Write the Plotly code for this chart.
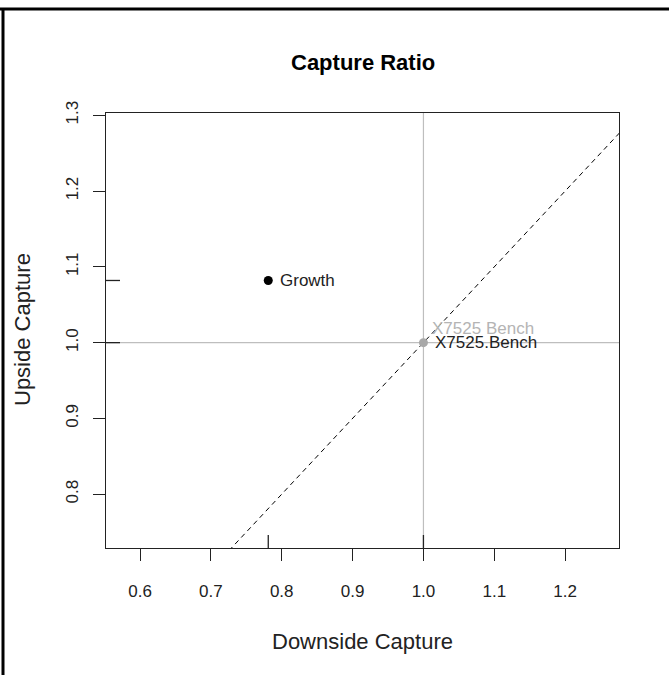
import plotly.graph_objects as go

# Capture ratios of each series against the benchmark
names = ["Growth", "X7525.Bench"]
downside_capture = [0.781, 1.0]
upside_capture = [1.082, 1.0]
point_colors = ["black", "#A8A8A8"]

x_ticks = [0.6, 0.7, 0.8, 0.9, 1.0, 1.1, 1.2]
y_ticks = [0.8, 0.9, 1.0, 1.1, 1.2, 1.3]
x_range = [0.552, 1.276]
y_range = [0.729, 1.303]

W, H = 669, 675
L, R, T, B = 106, 50, 113, 127
plot_w = W - L - R
plot_h = H - T - B


def px_x(p):
    return (p - L) / plot_w


def px_y(p):
    return (H - B - p) / plot_h


FONT = "Liberation Sans, Arial, sans-serif"
fig = go.Figure()

# 45-degree reference line (upside == downside)
lo, hi = min(x_range[0], y_range[0]), max(x_range[1], y_range[1])
fig.add_trace(go.Scatter(
    x=[lo, hi], y=[lo, hi], mode="lines",
    line=dict(color="black", width=1, dash="5px,4px"),
    hoverinfo="skip", showlegend=False,
))

# Grey cross-hair through the benchmark (1, 1)
bench_x, bench_y = downside_capture[1], upside_capture[1]
fig.add_shape(type="line", xref="x", yref="paper", x0=bench_x, x1=bench_x, y0=0, y1=1,
              line=dict(color="#BEBEBE", width=1.2), layer="below")
fig.add_shape(type="line", xref="paper", yref="y", x0=0, x1=1, y0=bench_y, y1=bench_y,
              line=dict(color="#BEBEBE", width=1.2), layer="below")

# Rug ticks inside the axes for each point
for xv, yv in zip(downside_capture, upside_capture):
    fig.add_shape(type="line", xref="x", yref="paper", ysizemode="pixel", yanchor=0,
                  x0=xv, x1=xv, y0=0, y1=13, line=dict(color="#222", width=1.3))
    fig.add_shape(type="line", xref="paper", yref="y", xsizemode="pixel", xanchor=0,
                  y0=yv, y1=yv, x0=0, x1=14, line=dict(color="#222", width=1.3))

# Points
fig.add_trace(go.Scatter(
    x=downside_capture, y=upside_capture, mode="markers",
    marker=dict(color=point_colors, size=9, line=dict(width=0)),
    hoverinfo="skip", showlegend=False,
))

# Point labels
fig.add_annotation(x=downside_capture[0], y=upside_capture[0], text=names[0],
                   xanchor="left", yanchor="middle", xshift=10, showarrow=False,
                   font=dict(family=FONT, size=17, color="#222"))
fig.add_annotation(x=downside_capture[1], y=upside_capture[1], text=names[1].replace(".", " "),
                   xanchor="left", yanchor="middle", xshift=7, yshift=14, showarrow=False,
                   font=dict(family=FONT, size=17, color="#B4B4B4"))
fig.add_annotation(x=downside_capture[1], y=upside_capture[1], text=names[1],
                   xanchor="left", yanchor="middle", xshift=10, yshift=0, showarrow=False,
                   font=dict(family=FONT, size=17, color="#222"))

# Titles
fig.add_annotation(xref="paper", yref="paper", x=0.5, y=px_y(63), text="<b>Capture Ratio</b>",
                   showarrow=False, xanchor="center", yanchor="middle",
                   font=dict(family=FONT, size=22, color="black"))
fig.add_annotation(xref="paper", yref="paper", x=0.5, y=px_y(641), text="Downside Capture",
                   showarrow=False, xanchor="center", yanchor="middle",
                   font=dict(family=FONT, size=22, color="#222"))
fig.add_annotation(xref="paper", yref="paper", x=px_x(22), y=px_y(330), text="Upside Capture",
                   showarrow=False, xanchor="center", yanchor="middle", textangle=-90,
                   font=dict(family=FONT, size=22, color="#222"))

# Outer frame (top and left edges)
fig.add_shape(type="line", xref="paper", yref="paper", x0=px_x(0), x1=px_x(W), y0=px_y(9), y1=px_y(9),
              line=dict(color="black", width=3))
fig.add_shape(type="line", xref="paper", yref="paper", x0=px_x(3), x1=px_x(3), y0=px_y(8), y1=px_y(H),
              line=dict(color="black", width=3))

axis_common = dict(
    showgrid=False, zeroline=False, showline=True, mirror=True,
    linecolor="#222", linewidth=1.4, ticks="outside", ticklen=12,
    tickcolor="#222", tickwidth=1.3, tickformat=".1f",
    tickfont=dict(family=FONT, size=17, color="#222"),
)
fig.update_xaxes(range=x_range, tickvals=x_ticks, ticklabelstandoff=15, **axis_common)
fig.update_yaxes(range=y_range, tickvals=y_ticks, tickangle=-90, ticklabelstandoff=8, **axis_common)

fig.update_layout(
    width=W, height=H, margin=dict(l=L, r=R, t=T, b=B),
    paper_bgcolor="white", plot_bgcolor="white",
    font=dict(family=FONT, color="#222"),
)

fig.write_html("out.html")
